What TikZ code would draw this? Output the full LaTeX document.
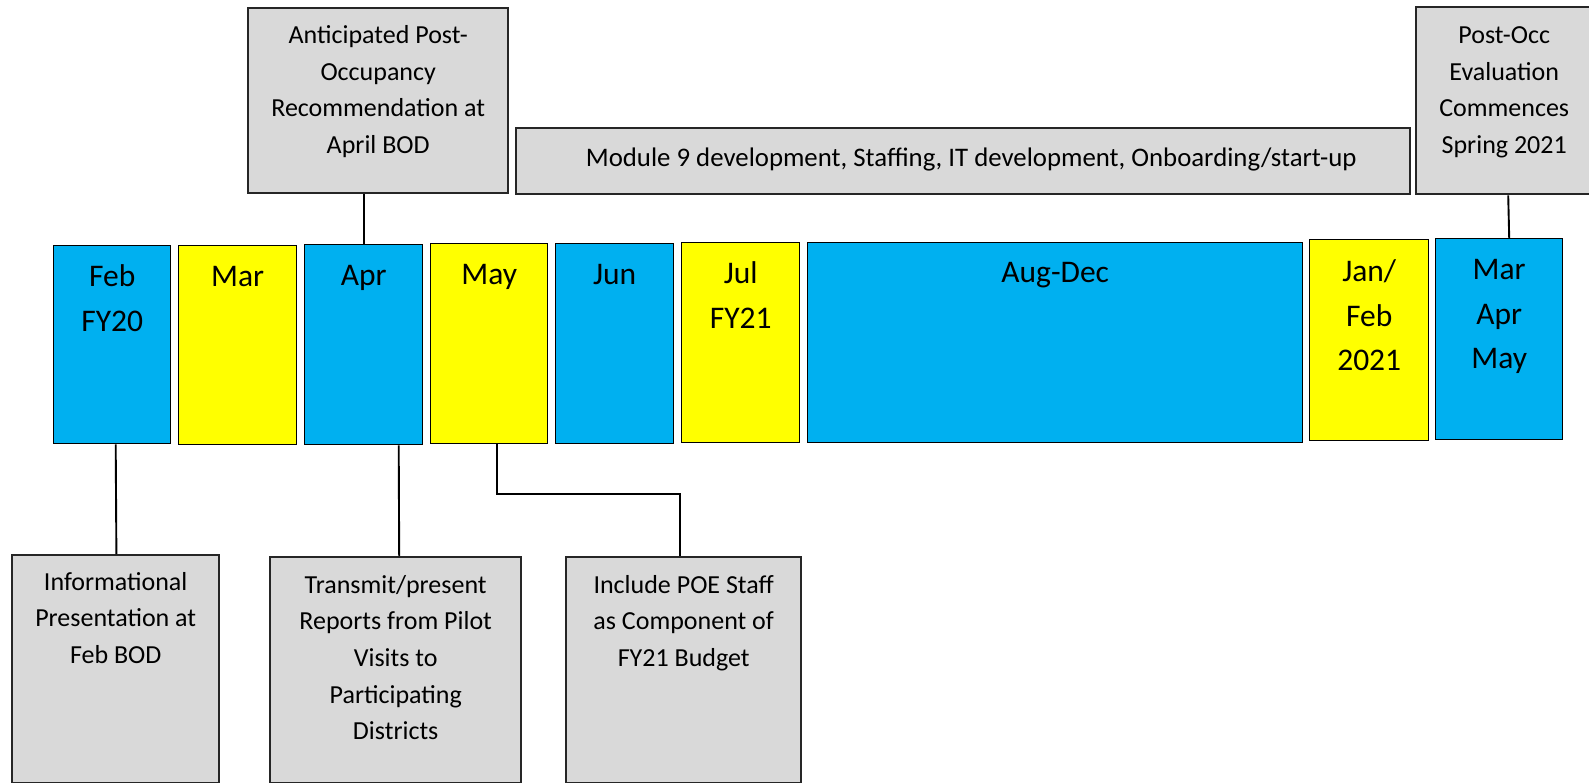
\documentclass[tikz,border=0pt]{standalone}
\usepackage{fontspec}
\setmainfont{Carlito}
\definecolor{mblue}{HTML}{00B0F0}
\definecolor{myellow}{HTML}{FFFF00}
\definecolor{mgray}{HTML}{D9D9D9}
\newcommand{\mlines}[1]{\begin{tabular}[t]{@{}c@{}}#1\end{tabular}}
\tikzset{
  monthbox/.style={draw=black, line width=1.4pt, anchor=north west, inner sep=0pt},
  notebox/.style={draw=black!85, fill=mgray, line width=2.4pt, anchor=north west, inner sep=0pt},
  monthtext/.style={anchor=base, inner sep=0pt, font=\fontsize{31.5}{44.5}\selectfont},
  notetext/.style={anchor=base, inner sep=0pt, font=\fontsize{26}{36.7}\selectfont},
  conn/.style={draw=black, line width=1.9pt}
}
\begin{document}
\begin{tikzpicture}[x=1pt,y=-1pt]
\useasboundingbox (0,0) rectangle (1589,783);
% top note boxes
\node[notebox, minimum width=260pt, minimum height=185pt] (antic) at (247,7) {};
\node[notebox, minimum width=894pt, minimum height=66pt] (module) at (515,127) {};
\node[notebox, minimum width=176pt, minimum height=187pt] (postocc) at (1415,6) {};
% month boxes
\node[monthbox, fill=mblue, minimum width=117pt, minimum height=198pt] (feb) at (53,245) {};
\node[monthbox, fill=myellow, minimum width=118pt, minimum height=199pt] (mar) at (178,245) {};
\node[monthbox, fill=mblue, minimum width=118pt, minimum height=200pt] (apr) at (304,244) {};
\node[monthbox, fill=myellow, minimum width=117pt, minimum height=200pt] (may) at (430,243) {};
\node[monthbox, fill=mblue, minimum width=118pt, minimum height=200pt] (jun) at (555,243) {};
\node[monthbox, fill=myellow, minimum width=118pt, minimum height=200pt] (jul) at (681,242) {};
\node[monthbox, fill=mblue, minimum width=495pt, minimum height=200pt] (augdec) at (807,242) {};
\node[monthbox, fill=myellow, minimum width=119pt, minimum height=201pt] (janfeb) at (1309,239) {};
\node[monthbox, fill=mblue, minimum width=127pt, minimum height=201pt] (mam) at (1435,238) {};
% bottom note boxes
\node[notebox, minimum width=207pt, minimum height=228pt] (info) at (11,554) {};
\node[notebox, minimum width=251pt, minimum height=226pt] (transmit) at (269,556) {};
\node[notebox, minimum width=235pt, minimum height=226pt] (incl) at (565,556) {};
% month texts
\node[monthtext] (tfeb) at ([yshift=-42pt]feb.north) {\mlines{Feb\\FY20}};
\node[monthtext] (tmar) at ([yshift=-42pt]mar.north) {\mlines{Mar}};
\node[monthtext] (tapr) at ([yshift=-42pt]apr.north) {\mlines{Apr}};
\node[monthtext] (tmay) at ([yshift=-42pt]may.north) {\mlines{May}};
\node[monthtext] (tjun) at ([yshift=-42pt]jun.north) {\mlines{Jun}};
\node[monthtext] (tjul) at ([yshift=-42pt]jul.north) {\mlines{Jul\\FY21}};
\node[monthtext] (taug) at ([yshift=-41pt]augdec.north) {\mlines{Aug-Dec}};
\node[monthtext] (tjan) at ([yshift=-43pt]janfeb.north) {\mlines{Jan/\\Feb\\2021}};
\node[monthtext] (tmam) at ([yshift=-42pt]mam.north) {\mlines{Mar\\Apr\\May}};
% note texts
\node[notetext] (tantic) at ([yshift=-36.5pt]antic.north) {\mlines{Anticipated Post-\\Occupancy\\Recommendation at\\April BOD}};
\node[notetext, anchor=center, font=\fontsize{26.8}{36.7}\selectfont] (tmodule) at ([xshift=8pt,yshift=2pt]module.center) {Module 9 development, Staffing, IT development, Onboarding/start-up};
\node[notetext] (tpost) at ([yshift=-37.5pt]postocc.north) {\mlines{Post-Occ\\Evaluation\\Commences\\Spring 2021}};
\node[notetext] (tinfo) at ([yshift=-36pt]info.north) {\mlines{Informational\\Presentation at\\Feb BOD}};
\node[notetext] (ttrans) at ([yshift=-37pt]transmit.north) {\mlines{Transmit/present\\Reports from Pilot\\Visits to\\Participating\\Districts}};
\node[notetext] (tincl) at ([yshift=-37pt]incl.north) {\mlines{Include POE Staff\\as Component of\\FY21 Budget}};
% connectors
\draw[conn] (apr.north) -- (apr.north |- antic.south);
\draw[conn] ([xshift=4pt]postocc.south) -- ([xshift=10pt]mam.north);
\draw[conn] ([xshift=3.5pt]feb.south) -- ([xshift=0.7pt]info.north);
\draw[conn] ([xshift=35pt]apr.south) -- ([xshift=3.5pt]transmit.north);
\draw[conn] ([xshift=7.5pt]may.south) -- ++(0,50) -| ([xshift=-3.5pt]incl.north);
\end{tikzpicture}
\end{document}
